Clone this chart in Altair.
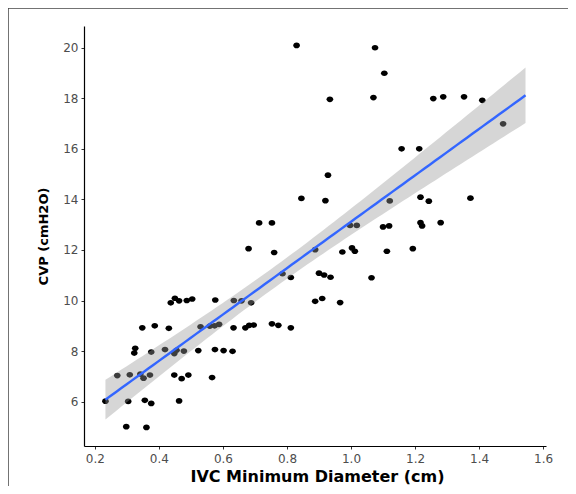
import numpy as np
import pandas as pd
import altair as alt

# IVC minimum diameter (cm) and CVP (cmH2O)
ivc = [0.830, 1.075, 1.104, 0.934, 1.070, 1.257, 1.288, 1.353, 1.410, 1.475,
       1.158, 1.213, 0.928, 0.845, 0.920, 1.121, 1.217, 1.243, 1.373,
       0.713, 0.753, 0.997, 1.018, 1.100, 1.119, 1.217, 1.222, 1.280,
       0.680, 0.760, 0.888, 0.973, 1.003, 1.012, 1.112, 1.193,
       0.786, 0.812, 0.900, 0.916, 0.936, 1.064,
       0.437, 0.450, 0.463, 0.487, 0.504, 0.576, 0.634, 0.658, 0.688, 0.888, 0.910, 0.966,
       0.348, 0.387, 0.431, 0.530, 0.559, 0.574, 0.588, 0.633, 0.670, 0.682, 0.696, 0.753, 0.773, 0.812,
       0.326, 0.323, 0.376, 0.419, 0.448, 0.455, 0.478, 0.523, 0.575, 0.602, 0.630,
       0.270, 0.309, 0.342, 0.352, 0.372, 0.448, 0.471, 0.492, 0.566,
       0.233, 0.304, 0.356, 0.376, 0.463,
       0.298, 0.361]
cvp = [20.09, 20.0, 18.99, 17.96, 18.03, 17.99, 18.06, 18.06, 17.92, 16.99,
       16.0, 16.0, 14.96, 14.04, 13.95, 13.94, 14.09, 13.93, 14.05,
       13.07, 13.07, 12.97, 12.97, 12.91, 12.95, 13.08, 12.95, 13.08,
       12.05, 11.90, 12.01, 11.92, 12.08, 11.95, 11.95, 12.05,
       11.06, 10.91, 11.08, 11.01, 10.92, 10.90,
       9.91, 10.09, 9.99, 10.0, 10.06, 10.02, 10.0, 9.99, 9.91, 9.97, 10.08, 9.92,
       8.92, 9.0, 8.9, 8.96, 8.99, 9.0, 9.06, 8.92, 8.92, 9.02, 9.03, 9.08, 9.02, 8.92,
       8.11, 7.92, 7.96, 8.06, 7.90, 8.03, 8.0, 8.02, 8.06, 8.02, 7.99,
       7.03, 7.06, 7.09, 6.93, 7.05, 7.05, 6.91, 7.05, 6.95,
       6.02, 6.01, 6.05, 5.93, 6.03,
       5.01, 4.98]

x_ticks = [0.2, 0.4, 0.6, 0.8, 1.0, 1.2, 1.4, 1.6]
y_ticks = [6, 8, 10, 12, 14, 16, 18, 20]
x_domain = [0.166, 1.609]
y_domain = [4.245, 20.86]
fit_x_end = 1.545  # end of the fitted line as drawn

df = pd.DataFrame({"ivc": ivc, "cvp": cvp})

# linear fit with 95% confidence band
xa = np.array(ivc)
ya = np.array(cvp)
n = len(xa)
b1, b0 = np.polyfit(xa, ya, 1)
resid = ya - (b0 + b1 * xa)
s = np.sqrt((resid ** 2).sum() / (n - 2))
xbar = xa.mean()
sxx = ((xa - xbar) ** 2).sum()
grid = np.linspace(xa.min(), fit_x_end, 80)
pred = b0 + b1 * grid
se = s * np.sqrt(1.0 / n + (grid - xbar) ** 2 / sxx)
tval = 1.986
band = pd.DataFrame({"ivc": grid, "fit": pred, "lo": pred - tval * se, "hi": pred + tval * se})

xscale = alt.Scale(domain=x_domain, nice=False, zero=False)
yscale = alt.Scale(domain=y_domain, nice=False, zero=False)

xaxis = alt.Axis(values=x_ticks, format=".1f", title="IVC Minimum Diameter (cm)",
                 titleFontSize=16, titleFontWeight="bold", titleColor="black",
                 titleX=233, titleY=30, titleBaseline="middle", titleAlign="center",
                 labelFontSize=12, labelColor="#4D4D4D", labelPadding=4,
                 tickColor="#333333", tickSize=3, domainColor="black", domainWidth=1.2,
                 grid=False)
yaxis = alt.Axis(values=y_ticks, format="d", title="CVP (cmH2O)",
                 titleFontSize=13, titleFontWeight="bold", titleColor="black",
                 titleX=-41, titleY=210, titleAngle=270, titleBaseline="middle", titleAlign="center",
                 labelFontSize=12, labelColor="#4D4D4D", labelPadding=3,
                 tickColor="#333333", tickSize=3, domainColor="black", domainWidth=1.2,
                 grid=False)

ellipse = "M -1.12 0 A 1.12 0.95 0 1 0 1.12 0 A 1.12 0.95 0 1 0 -1.12 0 Z"

points = alt.Chart(df).mark_point(filled=True, color="black", opacity=1, size=36, shape=ellipse).encode(
    x=alt.X("ivc:Q", scale=xscale, axis=xaxis),
    y=alt.Y("cvp:Q", scale=yscale, axis=yaxis),
)

ribbon = alt.Chart(band).mark_area(color="#999999", opacity=0.4).encode(
    x=alt.X("ivc:Q", scale=xscale),
    y=alt.Y("lo:Q", scale=yscale),
    y2="hi:Q",
)

line = alt.Chart(band).mark_line(color="#3366FF", strokeWidth=2.4).encode(
    x=alt.X("ivc:Q", scale=xscale),
    y=alt.Y("fit:Q", scale=yscale),
)

one = pd.DataFrame({"k": [0]})
frame_top = alt.Chart(one).mark_rule(color="#444444", strokeWidth=1.5).encode(
    x=alt.value(-76), x2=alt.value(500), y=alt.value(-18))
frame_left = alt.Chart(one).mark_rule(color="#444444", strokeWidth=1.5).encode(
    x=alt.value(-76), y=alt.value(-18), y2=alt.value(480))

chart = alt.layer(points, ribbon, line, frame_top, frame_left).properties(
    width=462, height=420,
    autosize=alt.AutoSizeParams(type="none"),
    padding={"left": 76, "top": 18, "right": 22, "bottom": 40},
).configure(font="DejaVu Sans").configure_view(stroke=None)

chart.save("out.html", embed_options={"renderer": "svg", "actions": False})
